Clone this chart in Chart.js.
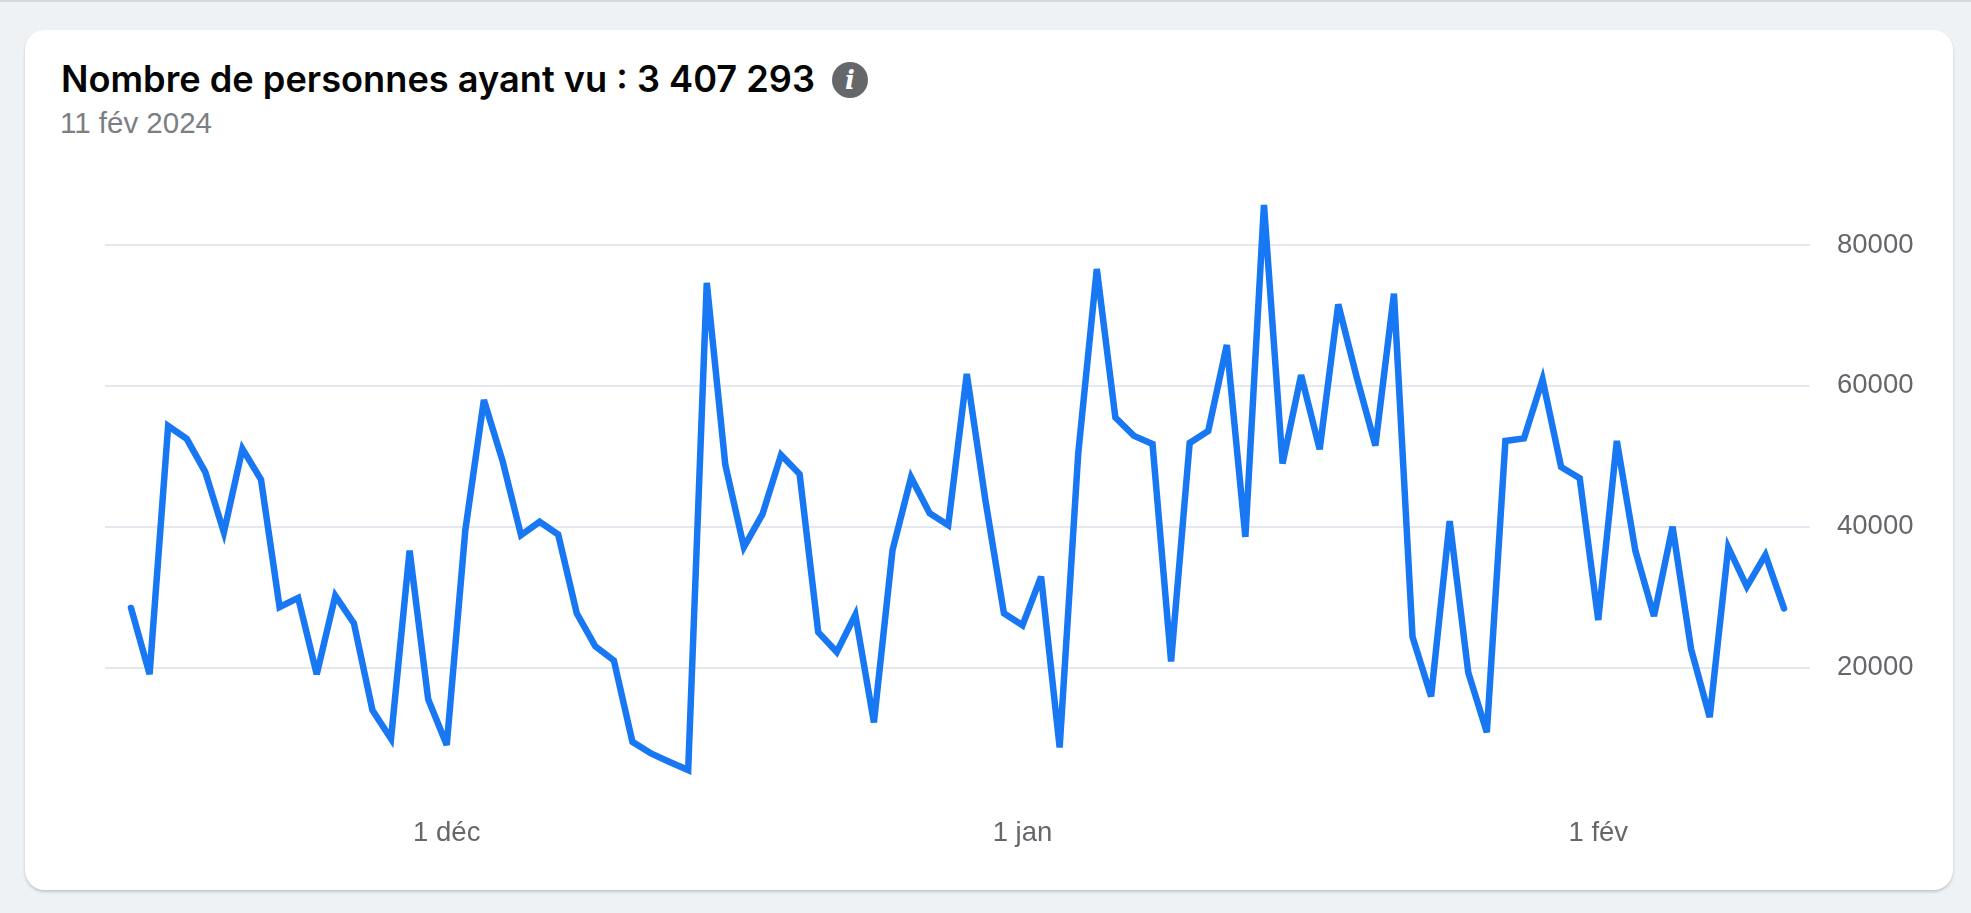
<!DOCTYPE html>
<html lang="fr">
<head>
<meta charset="utf-8">
<title>Nombre de personnes ayant vu</title>
<script src="https://cdn.jsdelivr.net/npm/chart.js@4"></script>
<style>
html, body { margin: 0; padding: 0; width: 1971px; height: 913px; overflow: hidden; background: #eef2f5; }
body { border-top: 2px solid #d5d8dc; box-sizing: border-box; position: relative; }
.carte { position: absolute; left: 25px; top: 28px; width: 1928px; height: 860px; background: #fff; border-radius: 20px; box-shadow: 0 2px 3px rgba(0,0,0,.18); }
.titre { position: absolute; left: 61px; top: 55px; font: 600 36.2px Inter, sans-serif; color: #050505; white-space: nowrap; }
.date { position: absolute; left: 60px; top: 104px; font: 400 29.5px "Liberation Sans", sans-serif; color: #7b7e83; white-space: nowrap; }
.info { position: absolute; left: 832px; top: 60px; width: 36px; height: 36px; border-radius: 50%; background: #65676b; color: #fff; font: italic 700 26px/36px "DejaVu Serif", serif; text-align: center; }
canvas { position: absolute; left: 0; top: -2px; }
</style>
</head>
<body>
<div class="carte"></div>
<div class="titre">Nombre de personnes ayant vu : 3 407 293</div>
<div class="info">i</div>
<div class="date">11 fév 2024</div>
<canvas id="graphique" width="1971" height="913"></canvas>
<script>
// vues par jour, du 14 nov au 11 fév
const vues = [
  28460, 19050, 54300, 52480, 47750, 39200, 51060, 46700, 28600, 29900,
  19050, 30200, 26300, 13950, 9900, 36600, 15500, 9000, 39500, 58000,
  49400, 38800, 40700, 38900, 27700, 23000, 21000, 9450, 7800, 6600,
  5450, 74640, 48750, 37100, 41780, 50200, 47470, 25030, 22200, 27500,
  12200, 36650, 47000, 41900, 40200, 61700, 43800, 27700, 26000, 32900,
  8650, 50400, 76600, 55500, 52900, 51750, 20850, 51900, 53600, 65800,
  38550, 85700, 48980, 61520, 51000, 71570, 61170, 51520, 73100, 24360,
  15900, 40800, 19300, 10800, 52180, 52540, 60900, 48480, 46900, 26750,
  52180, 36550, 27300, 40000, 22600, 12950, 37060, 31500, 36000, 28400
]

const joursTicks = [17, 48, 79]
const labelsTicks = ['1 déc', '1 jan', '1 fév']
const valeursTicks = [20000, 40000, 60000, 80000]

const points = vues.map((v, i) => ({ x: i, y: v }))

const gris = '#65676b'
const police = { family: '"Liberation Sans", sans-serif', size: 27.5 }

// les pointes trop aiguës sont coupées dans l'original
const coupePointes = {
  id: 'coupePointes',
  beforeDatasetDraw: chart => { chart.ctx.miterLimit = 4 }
}

new Chart(document.getElementById('graphique'), {
  type: 'line',
  plugins: [coupePointes],
  data: {
    datasets: [{
      label: 'Personnes ayant vu',
      data: points,
      borderColor: '#1877f2',
      borderWidth: 6.5,
      borderJoinStyle: 'miter',
      borderCapStyle: 'round',
      pointRadius: 0,
      tension: 0,
      clip: false
    }]
  },
  options: {
    responsive: false,
    animation: false,
    layout: { padding: { left: 105, top: 174.6, right: 0, bottom: 0 } },
    plugins: { legend: { display: false }, tooltip: { enabled: false } },
    scales: {
      x: {
        type: 'linear',
        min: -1.4,
        max: 90.4,
        afterBuildTicks: axis => { axis.ticks = joursTicks.map(value => ({ value })) },
        afterFit: axis => { axis.height = 104.6 },
        grid: { display: false },
        border: { display: false },
        ticks: {
          maxRotation: 0,
          autoSkip: false,
          color: gris,
          font: police,
          padding: 1,
          callback: v => labelsTicks[joursTicks.indexOf(v)]
        }
      },
      y: {
        position: 'right',
        min: 0,
        max: 90000,
        afterBuildTicks: axis => { axis.ticks = valeursTicks.map(value => ({ value })) },
        afterFit: axis => { axis.width = 161 },
        grid: { color: '#e5e8ee', lineWidth: 2, drawTicks: false },
        border: { display: false },
        ticks: { color: gris, font: police, padding: 27, callback: v => String(v) }
      }
    }
  }
})
</script>
</body>
</html>
